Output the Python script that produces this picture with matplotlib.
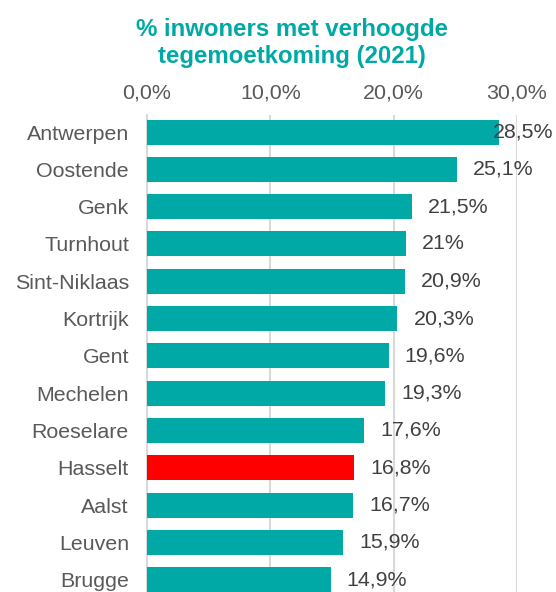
import matplotlib
matplotlib.use("Agg")
import matplotlib.pyplot as plt
import matplotlib.transforms as mtransforms

cities = ["Antwerpen", "Oostende", "Genk", "Turnhout", "Sint-Niklaas", "Kortrijk",
          "Gent", "Mechelen", "Roeselare", "Hasselt", "Aalst", "Leuven", "Brugge"]
values = [28.5, 25.1, 21.5, 21.0, 20.9, 20.3, 19.6, 19.3, 17.6, 16.8, 16.7, 15.9, 14.9]
labels = ["28,5%", "25,1%", "21,5%", "21%", "20,9%", "20,3%", "19,6%", "19,3%",
          "17,6%", "16,8%", "16,7%", "15,9%", "14,9%"]
highlight = "Hasselt"
xticks = [0, 10, 20, 30]
xticklabels = ["0,0%", "10,0%", "20,0%", "30,0%"]
title_lines = ["% inwoners met verhoogde", "tegemoetkoming (2021)"]

TEAL = "#00A9A6"
RED = "#FF0000"
GREY = "#595959"

plt.rcParams["font.family"] = ["Liberation Sans", "DejaVu Sans"]

fig = plt.figure(figsize=(5.56, 5.92), dpi=100)
ax = fig.add_axes([0.2644, 0.0, 0.6655, 0.806])

ypos = list(range(len(cities)))
colors = [RED if c == highlight else TEAL for c in cities]
ax.barh(ypos, values, height=0.67, color=colors, zorder=3)

ax.set_xlim(0, 30)
ax.set_ylim(12.33, -0.46)

ax.xaxis.tick_top()
ax.set_xticks(xticks)
ax.set_xticklabels(xticklabels, fontsize=15.4, color=GREY)
ax.set_yticks(ypos)
ax.set_yticklabels(cities, fontsize=15.4, color=GREY)
ax.tick_params(axis="both", length=0)
ax.tick_params(axis="y", pad=13)
ax.tick_params(axis="x", pad=9)

ax.grid(axis="x", color="#D9D9D9", linewidth=1.5, zorder=0)
for side in ["top", "right", "bottom"]:
    ax.spines[side].set_visible(False)
ax.spines["left"].set_color("#D9D9D9")
ax.spines["left"].set_linewidth(1.5)

# value labels after each bar; the longest one is pulled back inside the figure
fig_x = mtransforms.blended_transform_factory(fig.transFigure, ax.transData)
for y, v, lab in zip(ypos, values, labels):
    if v + 1.3 + 4.7 > 33.8:
        ax.text(0.995, y, lab, transform=fig_x, ha="right", va="center",
                fontsize=15.4, color="#404040", clip_on=False, zorder=4)
    else:
        ax.text(v + 1.3, y, lab, ha="left", va="center",
                fontsize=15.4, color="#404040", clip_on=False, zorder=4)

for line, yb in zip(title_lines, [0.9392, 0.8936]):
    fig.text(0.525, yb, line, ha="center", va="baseline", fontsize=17.3,
             fontweight="bold", color=TEAL)

fig.savefig("out.png", dpi=100)
